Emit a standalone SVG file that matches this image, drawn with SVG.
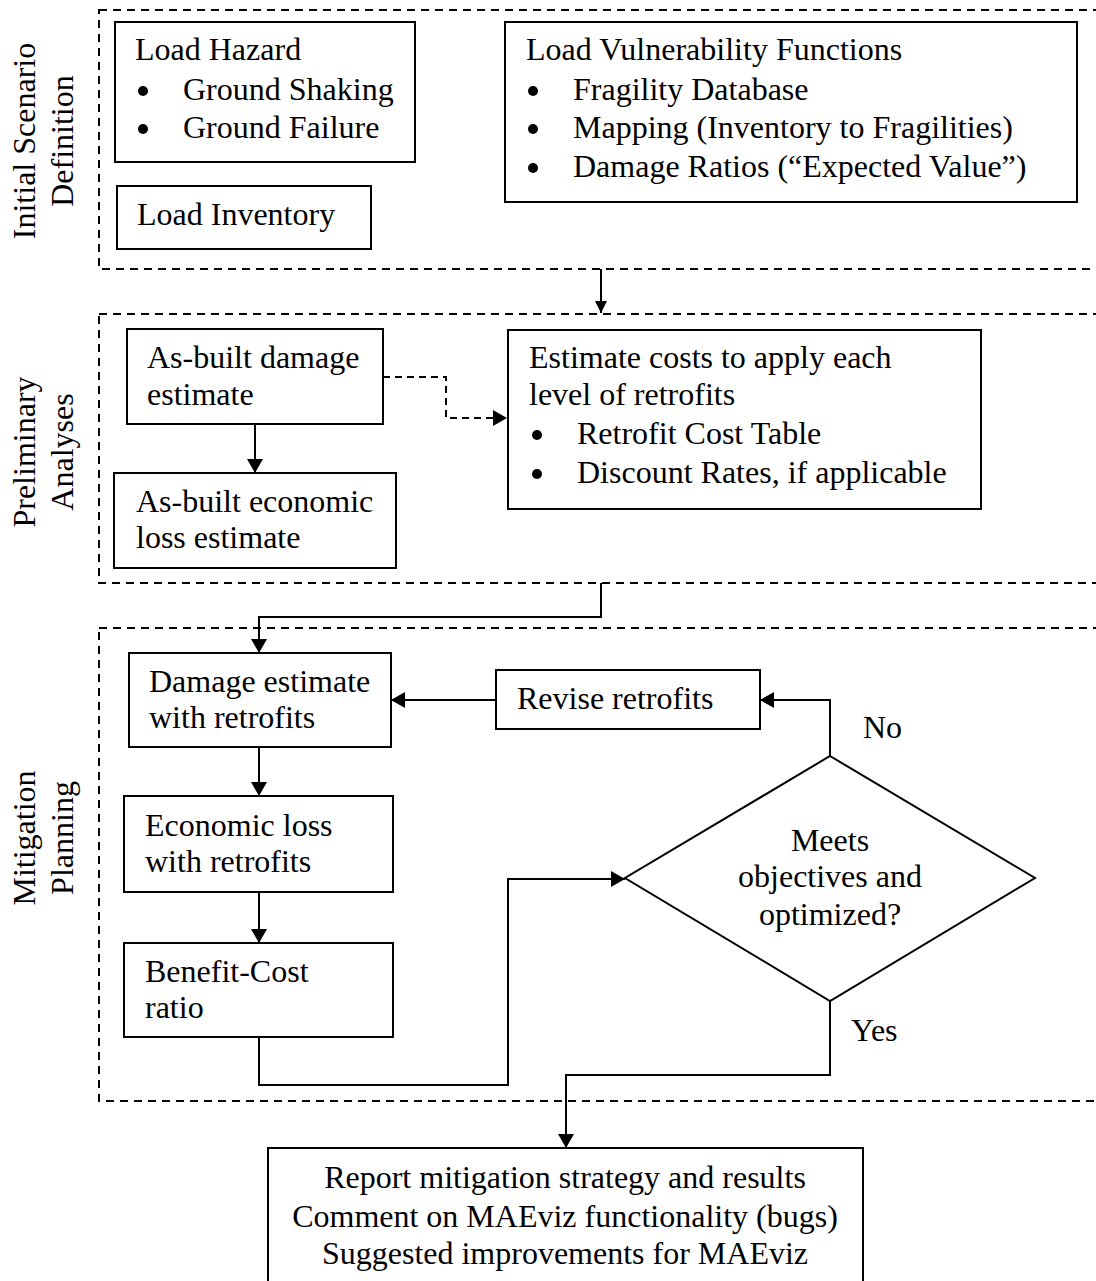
<svg xmlns="http://www.w3.org/2000/svg" width="1096" height="1281" viewBox="0 0 1096 1281">
<style>
text{font-family:"Liberation Serif","Times New Roman",serif;font-size:32px;fill:#000}
.box{fill:#fff;stroke:#000;stroke-width:2}
.sec{fill:none;stroke:#000;stroke-width:2;stroke-dasharray:8 6}
.ln{fill:none;stroke:#000;stroke-width:2}
.dl{fill:none;stroke:#000;stroke-width:2;stroke-dasharray:7 5}
.mid{text-anchor:middle}
</style>
<defs>
<marker id="ah" markerWidth="12" markerHeight="12" viewBox="0 0 12 12" refX="12" refY="6" orient="auto" markerUnits="userSpaceOnUse">
<path d="M0,0 L12,6 L0,12 z" fill="#000"/>
</marker>
<marker id="ahb" markerWidth="14" markerHeight="16" viewBox="0 0 14 16" refX="14" refY="8" orient="auto" markerUnits="userSpaceOnUse">
<path d="M0,0 L14,8 L0,16 z" fill="#000"/>
</marker>
</defs>

<g id="sections">
<rect class="sec" x="99" y="10" width="1010" height="259"/>
<rect class="sec" x="99" y="314" width="1010" height="269"/>
<rect class="sec" x="99" y="628" width="1010" height="473"/>
<text class="mid" transform="translate(35,141) rotate(-90)">Initial Scenario</text>
<text class="mid" transform="translate(73,141) rotate(-90)">Definition</text>
<text class="mid" transform="translate(35,452) rotate(-90)">Preliminary</text>
<text class="mid" transform="translate(73,452) rotate(-90)">Analyses</text>
<text class="mid" transform="translate(35,838) rotate(-90)">Mitigation</text>
<text class="mid" transform="translate(73,838) rotate(-90)">Planning</text>
</g>

<g id="connectors">
<line class="ln" x1="601" y1="269" x2="601" y2="313" marker-end="url(#ah)"/>
<line class="ln" x1="255" y1="424" x2="255" y2="473" marker-end="url(#ahb)"/>
<polyline class="dl" points="383,377 446,377 446,418 507,418" marker-end="url(#ahb)"/>
<polyline class="ln" points="601,583 601,617 259,617 259,653" marker-end="url(#ahb)"/>
<line class="ln" x1="496" y1="700" x2="391" y2="700" marker-end="url(#ahb)"/>
<line class="ln" x1="259" y1="747" x2="259" y2="796" marker-end="url(#ahb)"/>
<line class="ln" x1="259" y1="892" x2="259" y2="943" marker-end="url(#ahb)"/>
<polyline class="ln" points="259,1037 259,1085 508,1085 508,879 625,879" marker-end="url(#ahb)"/>
<polyline class="ln" points="830,756 830,700 760,700" marker-end="url(#ahb)"/>
<polyline class="ln" points="830,1001 830,1075 566,1075 566,1148" marker-end="url(#ahb)"/>
<text x="863" y="738">No</text>
<text x="851" y="1041">Yes</text>
</g>

<g id="load-hazard">
<rect class="box" x="115" y="22" width="300" height="140"/>
<text x="135" y="60">Load Hazard</text>
<circle cx="143" cy="91" r="5"/>
<text x="183" y="100">Ground Shaking</text>
<circle cx="143" cy="129" r="5"/>
<text x="183" y="138">Ground Failure</text>
</g>

<g id="load-inventory">
<rect class="box" x="117" y="186" width="254" height="63"/>
<text x="137" y="225">Load Inventory</text>
</g>

<g id="load-vulnerability">
<rect class="box" x="505" y="22" width="572" height="180"/>
<text x="526" y="60">Load Vulnerability Functions</text>
<circle cx="533" cy="91" r="5"/>
<text x="573" y="100">Fragility Database</text>
<circle cx="533" cy="129" r="5"/>
<text x="573" y="138">Mapping (Inventory to Fragilities)</text>
<circle cx="533" cy="168" r="5"/>
<text x="573" y="177">Damage Ratios (“Expected Value”)</text>
</g>

<g id="asbuilt-damage">
<rect class="box" x="127" y="329" width="256" height="95"/>
<text x="147" y="368">As-built damage</text>
<text x="147" y="405">estimate</text>
</g>

<g id="asbuilt-loss">
<rect class="box" x="114" y="473" width="282" height="95"/>
<text x="136" y="512">As-built economic</text>
<text x="136" y="548">loss estimate</text>
</g>

<g id="estimate-costs">
<rect class="box" x="508" y="330" width="473" height="179"/>
<text x="529" y="368">Estimate costs to apply each</text>
<text x="529" y="405">level of retrofits</text>
<circle cx="537" cy="435" r="5"/>
<text x="577" y="444">Retrofit Cost Table</text>
<circle cx="537" cy="474" r="5"/>
<text x="577" y="483">Discount Rates, if applicable</text>
</g>

<g id="damage-retrofits">
<rect class="box" x="129" y="653" width="262" height="94"/>
<text x="149" y="692">Damage estimate</text>
<text x="149" y="728">with retrofits</text>
</g>

<g id="revise-retrofits">
<rect class="box" x="496" y="670" width="264" height="59"/>
<text x="517" y="709">Revise retrofits</text>
</g>

<g id="economic-retrofits">
<rect class="box" x="124" y="796" width="269" height="96"/>
<text x="145" y="836">Economic loss</text>
<text x="145" y="872">with retrofits</text>
</g>

<g id="benefit-cost">
<rect class="box" x="124" y="943" width="269" height="94"/>
<text x="145" y="982">Benefit-Cost</text>
<text x="145" y="1018">ratio</text>
</g>

<g id="decision">
<polygon class="box" points="830,756 1035,878 830,1001 625,878"/>
<text class="mid" x="830" y="851">Meets</text>
<text class="mid" x="830" y="887">objectives and</text>
<text class="mid" x="830" y="925">optimized?</text>
</g>

<g id="report">
<rect class="box" x="268" y="1148" width="595" height="150"/>
<text class="mid" x="565" y="1188">Report mitigation strategy and results</text>
<text class="mid" x="565" y="1227">Comment on MAEviz functionality (bugs)</text>
<text class="mid" x="565" y="1264">Suggested improvements for MAEviz</text>
</g>
</svg>
